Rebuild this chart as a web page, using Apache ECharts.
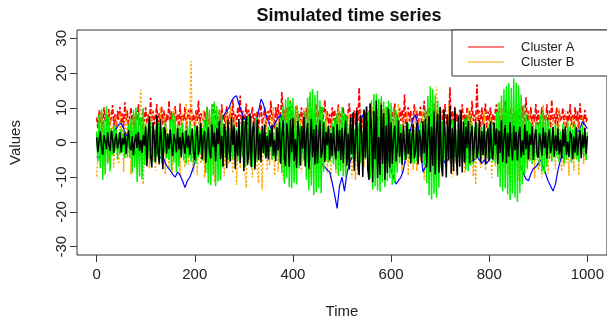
<!DOCTYPE html>
<html>
<head>
<meta charset="utf-8">
<script src="https://cdn.jsdelivr.net/npm/echarts@6/dist/echarts.min.js"></script>
<style>html,body{margin:0;padding:0;background:#fff}#c{width:607px;height:324px}</style>
</head>
<body>
<div id="c"></div>
<script>
const titleText = "Simulated time series";
const xName = "Time";
const yName = "Values";
const xTicks = [0, 200, 400, 600, 800, 1000];
const yTicks = [-30, -20, -10, 0, 10, 20, 30];
const denseStep = 2.5;
const blueStep = 5;

const redA = [
7.2,4.1,9.3,5.6,8.8,3.4,10.1,6.2,8.0,4.7,9.6,5.3,7.5,10.8,4.4,8.2,3.9,9.1,6.6,10.3,
5.2,8.4,4.0,11.6,6.1,9.2,3.3,7.4,10.0,5.1,8.3,4.2,9.0,6.3,11.0,5.0,7.1,3.6,9.3,6.0,
10.1,5.3,8.2,4.4,12.9,6.0,9.1,5.2,7.4,11.1,4.3,8.5,6.2,10.4,5.1,9.3,3.2,8.1,6.4,12.0,
5.1,9.0,4.3,7.2,10.5,6.1,8.3,3.4,11.2,5.0,8.1,6.3,10.2,4.1,7.3,9.4,5.2,11.0,6.0,8.2,
4.1,9.3,6.2,12.1,5.0,8.4,7.0,6.3,9.1,4.2,10.3,5.4,7.1,3.2,8.5,11.0,6.1,9.2,4.0,7.3,
9.2,5.1,11.0,6.3,8.0,4.2,10.4,7.1,5.3,9.0,6.1,12.2,5.0,8.3,4.1,10.2,7.4,13.5,5.2,9.1,
4.3,8.0,11.2,6.1,9.4,3.2,7.1,10.3,5.0,8.4,6.2,9.1,4.0,8.2,11.0,5.3,7.2,10.1,4.4,8.0,
9.1,5.2,12.0,6.3,8.1,4.0,10.2,7.0,11.1,5.4,8.0,14.5,6.2,9.3,4.1,10.0,5.2,8.3,12.1,6.0,
9.0,4.2,7.1,11.0,5.3,8.2,6.0,10.1,4.3,9.2,6.1,10.0,5.2,8.1,13.2,6.0,9.3,4.1,7.2,11.1,
5.0,9.2,6.1,10.3,4.0,8.1,12.2,6.2,9.0,5.3,8.2,4.1,10.1,6.3,9.4,5.0,7.1,11.0,4.2,8.3,
7.0,10.2,5.1,8.3,4.2,9.1,11.3,6.0,8.2,4.4,9.3,5.0,10.1,6.2,15.8,5.3,8.0,4.1,9.2,6.3,
10.0,5.2,8.1,11.2,6.0,9.3,4.1,7.2,10.4,5.0,8.2,6.1,12.0,4.3,9.1,5.2,7.0,10.3,6.2,8.0,
4.2,9.1,6.0,11.3,5.1,8.2,3.3,10.0,6.2,9.4,5.0,13.8,4.1,8.3,10.2,6.0,9.1,4.4,7.2,11.0,
6.1,9.2,4.0,8.1,10.3,5.2,7.1,12.0,4.3,9.0,6.2,10.1,5.0,8.3,4.2,11.2,6.1,9.0,5.3,8.1,
10.2,4.1,9.3,6.0,11.1,5.2,8.0,6.3,15.9,5.0,9.1,4.2,10.3,6.1,8.2,4.0,9.4,7.1,11.0,5.3,
8.1,5.0,10.2,6.3,9.1,4.1,12.0,6.2,8.0,5.3,16.8,6.0,9.2,4.3,10.1,5.1,8.3,11.2,4.0,9.0,
6.2,10.1,5.0,8.3,4.1,9.2,11.0,6.0,8.1,4.2,10.3,5.1,7.2,12.1,6.0,9.3,4.3,8.0,10.2,5.1,
8.2,4.0,9.1,6.3,11.0,5.2,7.1,10.4,4.1,8.3,13.0,6.1,9.0,5.3,10.2,4.2,8.1,6.0,11.1,5.0,
9.3,5.1,7.0,10.2,4.3,8.1,6.2,11.0,5.0,9.2,4.1,12.3,6.0,8.2,5.2,10.1,4.0,9.1,6.3,7.1,
10.0,5.2,8.3,4.1,9.0,6.2,11.1,5.0,8.2,4.3,10.2,6.1,9.0,4.0,11.3,6.2,8.0,5.1,9.4,6.0,
7.0];

const orangeB = [
-9.8,-4.2,6.1,-1.3,8.2,-6.7,2.4,-8.9,5.3,0.7,-5.6,9.1,-3.4,4.8,-7.2,1.6,7.4,-2.9,-6.3,8.6,
-1.8,5.7,-8.4,3.2,9.7,-4.6,-0.9,6.8,-9.3,2.5,7.1,-5.2,1.4,-7.8,4.3,8.9,15.2,-3.1,-12.1,5.5,
-6.4,2.8,8.3,-7.5,-1.1,9.6,-4.9,3.7,-8.2,6.1,0.9,-6.8,10.2,-2.6,-5.3,7.7,-9.1,4.2,1.5,-7.4,
6.6,-3.2,-8.7,9.8,2.1,-5.9,7.3,-0.6,-9.6,4.5,8.1,-4.1,-7.2,11.3,1.2,-6.5,5.9,23.5,-3.8,-8.6,
3.4,7.9,-9.4,0.8,6.2,-6.1,-2.7,9.3,-10.2,4.6,2.2,-7.6,8.4,-3.9,-5.1,7.0,-11.4,1.9,6.7,-4.3,
9.7,-7.1,-1.6,5.8,-9.8,3.1,8.2,-4.7,-6.2,10.4,-2.3,-8.9,4.1,7.5,-12.2,-3.5,6.0,-7.4,2.6,8.8,
-5.9,-9.3,-13.0,3.4,7.8,-6.4,1.2,-10.1,5.6,-3.0,8.3,-7.9,-11.6,4.4,-4.2,-13.5,6.9,-1.7,9.2,-8.1,
2.9,-6.6,7.4,-3.8,10.3,-9.5,0.4,6.2,-8.3,4.7,-1.9,8.8,-10.6,3.6,-5.4,9.4,-2.2,-7.7,5.1,-4.0,
8.0,-9.6,3.3,11.0,-5.8,-1.4,6.5,-8.7,2.0,9.8,-4.5,-7.1,5.4,10.6,-9.9,1.1,-3.6,7.9,-6.3,4.2,
-10.7,6.3,-2.1,8.6,-7.4,3.8,-5.0,9.0,-8.8,0.6,4.9,-11.2,7.1,-3.3,5.7,-9.0,2.4,10.5,-6.7,-1.2,
6.8,-7.3,3.1,-9.7,5.2,-4.4,8.3,-1.5,-10.3,-6.2,4.0,-10.8,7.2,-9.4,2.7,-5.8,9.5,-3.1,-7.0,6.4,
-2.6,8.7,-8.1,4.6,-5.5,10.2,-9.2,1.8,6.9,-6.6,-3.0,7.6,-10.0,3.9,-4.8,9.9,-7.5,2.3,5.8,-8.4,
9.1,-4.3,-9.9,6.0,1.3,-7.2,11.2,-5.1,3.5,-8.6,7.8,-1.0,-6.4,8.9,-9.5,4.1,-2.8,6.6,-7.9,2.4,
10.1,-8.2,0.9,7.0,-5.4,-2.0,9.2,-10.9,5.8,-3.7,6.2,-4.1,-8.8,12.3,-1.6,4.9,-6.0,16.2,3.1,-7.1,
-5.3,8.5,-9.0,2.7,6.4,-7.7,-1.3,10.8,-6.1,3.2,-10.1,5.0,7.6,-4.6,-8.4,1.8,9.7,-2.5,-6.8,7.2,
-8.9,4.4,-3.2,10.0,-6.5,1.0,7.9,-9.8,3.6,-12.1,5.3,-1.9,8.6,-7.3,2.2,-4.5,9.1,-8.0,0.5,6.3,
-5.7,7.3,-10.2,2.6,5.1,-6.9,-1.7,8.8,-8.3,4.0,11.9,-3.4,-7.5,6.1,-2.2,9.4,-9.1,3.3,-5.9,-14.0,
10.2,-6.1,1.5,8.1,-11.0,4.8,-2.6,5.2,-9.2,-3.9,7.0,-7.8,2.0,9.3,-5.0,-0.8,6.7,-10.4,3.7,-4.4,
-8.0,6.1,-1.4,-10.1,11.0,-6.9,3.0,4.1,-9.0,7.9,-3.5,-5.2,8.1,-0.9,-7.6,5.5,-4.9,10.0,-2.0,-8.3,
4.7,-7.0,9.2,-5.8,1.1,-9.6,5.3,-2.4,7.4,-8.1,3.8,-4.3,6.1,-9.4,2.9,-1.2,7.7,-6.2,4.4,-5.0,
2.0];

const blueS = [
-4,-4.5,-3,-2.2,-1,0.5,2,3.4,4,5.2, 5.5,4,2.3,1,-1,-2.5,-3.2,-2,-1,0.3, 1,2.2,1.5,0,-1.2,-3,-4.5,-4,-6,-7.2,
-8,-9.2,-10,-8.5,-9.4,-11,-13,-11,-10,-8, -6,-3,-2.2,0,1,0,2.3,3,4.2,5, 6,6.5,8,9.3,10,12,13,13.5,11,9,
7,6.2,5,4,3,6,9,12.5,11,8, 6,4,4.5,6,7.2,8,6,4,3.3,2, 1,0,-1.2,-2,-3,-4.2,-3.5,-5,-4,-5.2,
-6,-5.5,-6.3,-7,-8,-8.5,-11.5,-15,-19,-12.5, -10,-14,-9,-6,-4.5,-2,1,4,7,8.5, 6,4.2,3,2,1,2,2.5,1,-2,-5,
-8,-10,-12,-11,-10,-8,-4,0,4,7, 8,5,-2,-8.5,-7,-5,-3,-2,-1,-2, -3,-4,-6,-5,-4,-3,-4,-4,-3,-2,
-3,-4,-5,-5.5,-5,-4,-5,-6,-5,-6, -5,-4,-2,1,4,6,7,5,3,1, -1,-3,-5,-7,-9,-10.5,-11,-9,-7.5,-7,
-6,-5,-7,-9,-11,-12.5,-14,-12,-8,-5, -4,-2,-1,0,1,2,3,4,6,5, 4];

const greenS = [
3.2,-5.5,8.1,-7.4,9.6,-10.8,6.3,-9.2,10.4,-6.1,7.5,-8.3,4.2,-3.6,5.1,-2.4,3.8,-4.9,2.7,-3.3,
4.1,-2.9,3.5,-4.6,1.8,-3.9,5.2,-4.4,6.8,-8.7,9.5,-7.2,10.1,-11.4,8.6,-9.8,7.3,-10.6,9.9,-6.5,
5.4,-6.2,3.1,-4.8,6.0,-2.5,4.7,-5.6,3.9,-4.1,5.8,-3.4,2.6,-5.9,4.4,-3.0,6.1,-4.6,2.2,-5.0,
6.6,-7.9,8.4,-5.8,7.7,-8.6,5.2,-6.9,4.5,-3.8,5.6,-5.2,3.3,-6.1,4.9,-4.3,6.2,-5.5,3.7,-6.6,
4.8,-5.9,3.6,-4.4,5.7,-3.2,4.1,-5.3,6.4,-8.8,10.2,-11.7,9.6,-12.3,11.1,-9.4,11.8,-12.6,10.5,-11.2,
9.3,-10.9,8.4,-7.1,5.5,-4.3,3.6,-5.0,4.4,-2.8,3.1,-4.7,5.2,-3.5,4.0,-5.4,2.9,-3.9,5.0,-4.1,
6.2,-7.3,5.8,-6.6,7.4,-5.1,6.9,-7.0,4.7,-6.2,7.1,-5.6,3.9,-4.8,3.4,-2.6,4.5,-3.7,2.8,-4.2,
4.6,-3.3,3.8,-5.1,2.9,-4.0,5.3,-3.6,4.2,-5.7,7.4,-8.9,10.6,-11.8,12.4,-10.2,13.1,-12.9,11.7,-13.2,
12.8,-11.6,10.4,-12.1,9.2,-7.5,5.4,-6.1,4.3,-5.2,8.8,-10.7,12.9,-13.8,14.6,-12.4,15.3,-15.1,13.7,-14.4,
14.9,-13.2,12.1,-14.6,10.3,-8.4,6.2,-5.1,4.6,-5.8,3.9,-4.4,5.5,-6.3,6.8,-7.9,8.5,-9.6,9.1,-8.2,
10.2,-9.7,8.4,-10.1,7.6,-5.9,4.8,-3.6,5.2,-4.5,3.7,-5.3,4.1,-3.2,5.6,-6.0,3.5,-4.7,5.9,-4.9,
6.3,-5.1,8.9,-10.4,12.2,-13.6,13.9,-12.7,14.1,-13.8,12.6,-14.2,13.3,-11.5,11.8,-12.9,10.4,-11.1,12.0,-10.3,
11.4,-12.2,10.1,-11.6,9.3,-8.7,7.2,-6.0,5.3,-4.6,3.8,-5.2,4.4,-3.7,5.6,-4.9,3.2,-5.8,4.7,-6.1,
4.2,-5.3,3.5,-4.1,6.0,-3.8,5.1,-6.6,9.8,-11.7,13.4,-15.2,16.1,-16.4,15.3,-14.8,13.6,-15.9,12.1,-13.0,
8.9,-7.4,6.1,-5.3,4.8,-6.2,3.6,-4.7,5.5,-3.9,6.4,-5.1,4.3,-5.8,3.7,-4.2,5.9,-4.5,3.1,-5.6,
6.8,-7.9,7.6,-8.2,8.1,-6.7,5.2,-6.3,4.4,-5.0,5.7,-4.1,3.9,-5.4,4.6,-3.8,5.2,-4.3,3.4,-4.9,
5.1,-4.6,6.3,-5.5,4.2,-6.0,8.7,-9.9,11.6,-12.8,13.5,-14.1,15.4,-13.2,16.2,-15.0,17.1,-16.6,15.8,-14.7,
18.5,-15.9,17.2,-17.1,16.4,-14.6,13.8,-12.1,10.9,-9.2,8.1,-7.5,6.6,-5.4,5.8,-6.2,4.9,-5.1,6.0,-4.4,
5.6,-6.8,7.9,-8.4,9.2,-8.9,8.1,-7.0,6.3,-4.8,4.1,-5.5,3.6,-4.3,5.2,-3.9,4.5,-5.7,3.3,-4.6,
5.4,-6.1,4.0,-4.8,6.2,-3.5,4.7,-5.9,3.8,-4.4,5.5,-4.9,3.2,-5.6,4.3,-3.6,5.0,-4.2,3.9,-5.1,
3.0];

const blackS = [
1.5,-2.8,0.6,3.2,-1.4,-3.5,2.1,0.3,-1.9,2.9,-0.8,-2.4,3.4,1.1,-3.1,0.4,2.6,-1.7,-0.2,3.0,
-2.9,1.3,-0.6,2.7,-3.3,0.9,3.6,-1.2,-2.2,1.8,-3.7,0.2,2.4,-1.6,3.1,-2.5,0.7,-3.0,2.2,-0.9,
4.6,-6.8,2.3,7.5,-3.9,-7.2,5.8,1.2,-5.6,7.9,-2.4,-6.1,6.7,-0.8,-7.7,4.4,3.1,-3.4,2.6,-1.9,
3.7,-1.1,-3.9,2.4,0.5,-2.8,4.1,-2.0,1.6,-4.3,2.9,-0.4,-3.2,3.5,-1.5,2.0,-3.6,1.2,4.0,-2.7,
-5.1,2.2,4.8,-3.6,-0.9,5.7,-4.9,1.7,3.3,-5.8,0.6,4.4,-2.7,-4.6,5.2,-1.3,2.9,-5.4,4.1,-0.5,
6.1,-4.8,1.9,-6.9,5.3,2.7,-7.4,6.6,-2.1,-5.5,7.2,-0.7,4.9,-7.6,3.4,-3.8,6.8,-5.9,1.3,7.5,
-8.2,4.1,7.6,-6.3,-2.9,8.4,-7.1,3.2,5.9,-7.8,-1.4,6.5,-5.0,2.6,-5.7,4.8,-3.1,5.2,-4.6,1.9,
-4.9,3.6,-1.2,5.1,-3.8,0.8,-5.3,4.4,-2.3,5.8,-6.1,2.1,6.4,-4.5,-6.8,5.5,1.4,-7.0,6.6,-2.8,
7.1,-5.4,0.9,-7.3,6.2,3.0,-6.6,4.7,-1.8,7.4,-6.9,2.4,5.6,-7.7,-0.6,6.8,-4.2,3.8,-6.3,5.0,
-6.0,1.5,6.3,-4.4,-2.2,5.8,-5.6,3.1,-0.8,4.9,-5.2,2.7,-3.9,4.6,-1.7,-4.8,5.3,-2.5,3.6,-5.0,
4.2,-5.9,1.8,6.4,-6.7,2.5,-7.8,7.3,-3.4,8.6,-8.1,0.9,9.2,-6.5,-9.4,7.9,2.8,-9.9,9.5,-4.3,
10.4,-7.6,-10.8,11.2,3.5,-11.5,9.1,-4.8,12.1,-10.2,1.6,-9.3,10.9,-6.1,8.4,-10.7,4.9,-8.8,9.7,-7.2,
5.8,-6.2,1.4,4.9,-5.5,-1.8,6.3,-4.1,2.7,-6.4,5.1,-0.7,-5.0,6.0,-3.3,3.9,-6.1,1.1,5.4,-4.6,
-2.4,5.7,-6.3,3.6,0.8,-5.9,6.1,-3.1,6.8,-7.2,2.0,7.6,-8.4,4.5,-6.7,8.9,-9.2,3.8,8.3,-8.7,
10.2,-6.4,-9.8,9.6,1.7,-10.1,8.1,-5.2,10.6,-9.0,4.1,-8.3,9.9,-2.9,-9.5,7.7,-7.0,9.2,-8.6,6.0,
-5.8,4.6,-1.6,6.2,-6.0,2.3,4.8,-5.4,0.5,5.9,-4.4,-2.0,6.5,-5.7,3.2,-3.6,5.3,-6.3,1.9,4.1,
-5.3,6.1,-2.6,-4.9,5.7,-0.8,4.0,-6.2,3.4,-3.0,6.4,-5.6,1.2,5.0,-6.0,2.8,-4.1,5.9,-1.3,-5.2,
4.8,-2.2,3.1,-5.1,1.7,4.5,-4.3,0.6,-3.6,5.2,-1.9,3.3,-4.9,2.4,-0.7,4.6,-5.0,1.5,3.8,-3.2,
-4.4,2.6,0.4,-3.8,4.3,-1.6,2.9,-4.6,1.3,3.7,-3.0,-0.9,4.5,-4.1,2.1,-2.5,4.0,-3.4,0.8,-4.7,
3.9,-1.2,4.6,-3.5,0.3,-4.2,3.2,2.0,-4.8,1.7,-2.9,4.4,-3.7,0.9,3.5,-4.5,2.3,-1.5,4.2,-3.3,
1.8];

function pairs(vals, step) {
  return vals.map(function (v, i) { return [i * step, v]; });
}

const chart = echarts.init(document.getElementById('c'), null, {renderer: 'canvas'});
const font = '"Liberation Sans", Arial, sans-serif';
function mk(name, vals, step, color, type, width) {
  return {
    name: name, type: 'line', data: pairs(vals, step), showSymbol: false, symbol: 'none',
    lineStyle: {color: color, width: width, type: type}, itemStyle: {color: color},
    emphasis: {disabled: true}, silent: true, animation: false
  };
}
chart.setOption({
  animation: false,
  backgroundColor: '#ffffff',
  title: {
    text: titleText, left: 344, top: 2, textAlign: 'center',
    textStyle: {fontFamily: font, fontSize: 18, fontWeight: 'bold', color: '#111'}
  },
  legend: {
    data: [{name: 'Cluster A', icon: 'rect'}, {name: 'Cluster B', icon: 'rect'}],
    orient: 'vertical', left: 452, top: 30,
    itemWidth: 36, itemHeight: 1, itemGap: 1,
    padding: [10, 80, 7, 16],
    borderColor: '#333', borderWidth: 1, backgroundColor: '#ffffff',
    textStyle: {fontFamily: font, fontSize: 13, color: '#222', padding: [0, 0, 0, 12], lineHeight: 14},
    selectedMode: false, z: 10
  },
  grid: {left: 76, top: 30, width: 536, height: 226, show: true, borderColor: '#333', borderWidth: 1, backgroundColor: 'transparent'},
  xAxis: {
    type: 'value', min: -40, max: 1040,
    name: xName, nameLocation: 'middle', nameGap: 49,
    nameTextStyle: {fontFamily: font, fontSize: 15, color: '#222'},
    axisLine: {show: false, onZero: false},
    axisTick: {show: true, length: 7, lineStyle: {color: '#333'}, customValues: xTicks},
    axisLabel: {fontFamily: font, fontSize: 15, color: '#222', margin: 12, customValues: xTicks,
      formatter: function (v) { return String(v); }},
    splitLine: {show: false}
  },
  yAxis: {
    type: 'value', min: -32.4, max: 32.4,
    name: yName, nameLocation: 'middle', nameGap: 54,
    nameTextStyle: {fontFamily: font, fontSize: 15, color: '#222'},
    axisLine: {show: false, onZero: false},
    axisTick: {show: true, length: 7, lineStyle: {color: '#333'}, customValues: yTicks},
    axisLabel: {fontFamily: font, fontSize: 15, color: '#222', margin: 8, rotate: 90, customValues: yTicks},
    splitLine: {show: false}
  },
  series: [
    mk('Cluster A', redA, denseStep, '#ff0000', [5, 2], 1.6),
    mk('Cluster B', orangeB, denseStep, '#ffa500', [2, 2], 1.5),
    mk('Series 3', blueS, blueStep, '#0000ff', 'solid', 1.2),
    mk('Series 4', greenS, denseStep, '#00f000', 'solid', 1.5),
    mk('Series 5', blackS, denseStep, '#000000', 'solid', 1.5)
  ]
});
</script>
</body>
</html>
